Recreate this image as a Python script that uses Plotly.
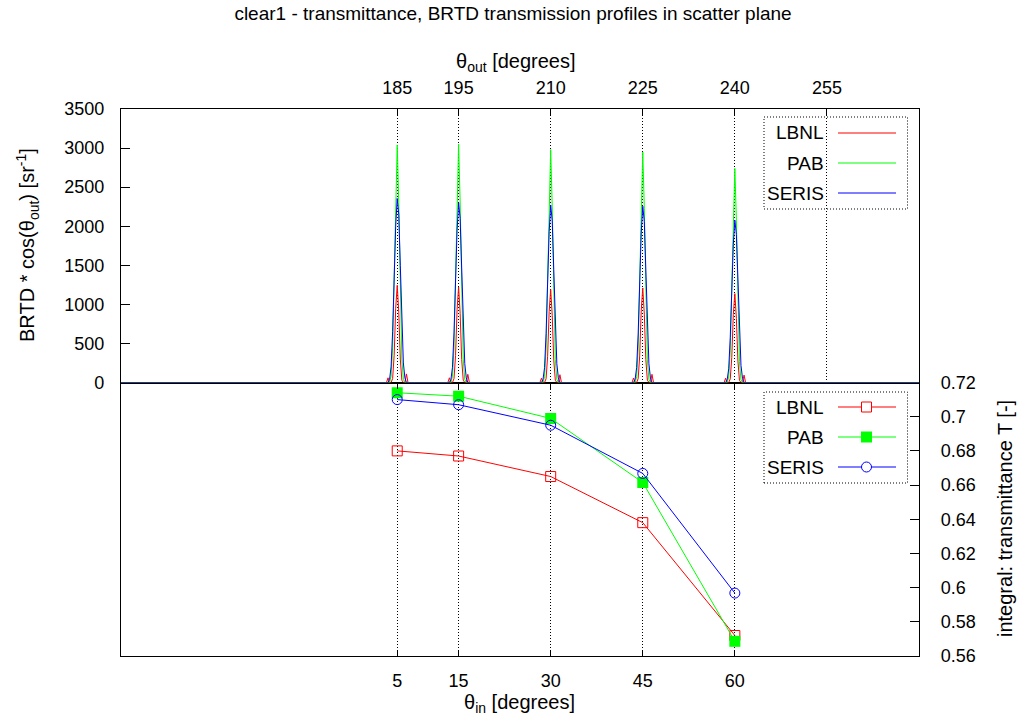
import plotly.graph_objects as go

# ---------------- data ----------------
THETA_IN = [5, 15, 30, 45, 60]
T_LBNL = [0.680, 0.677, 0.665, 0.638, 0.572]
T_PAB = [0.714, 0.712, 0.699, 0.6615, 0.5686]
T_SERIS = [0.710, 0.707, 0.695, 0.6668, 0.5968]

OUT_TICKS = [185, 195, 210, 225, 240, 255]
PEAK_CENTERS = [185, 195, 210, 225, 240]
OFFSETS = [-2.0, -1.75, -1.5, -1.25, -1.0, -0.75, -0.5, -0.25, 0.0,
           0.25, 0.5, 0.75, 1.0, 1.25, 1.5, 1.75, 2.0]

BRTD_LBNL = [
    [0, 0, 60, 0, 0, 50, 350, 950, 1244, 900, 300, 30, 0, 0, 110, 0, 0],
    [0, 0, 60, 0, 0, 50, 345, 935, 1222, 885, 295, 30, 0, 0, 105, 0, 0],
    [0, 0, 55, 0, 0, 48, 335, 910, 1190, 860, 287, 29, 0, 0, 100, 0, 0],
    [0, 0, 58, 0, 0, 49, 340, 925, 1210, 875, 292, 30, 0, 0, 105, 0, 0],
    [0, 0, 55, 0, 0, 46, 320, 870, 1137, 820, 275, 28, 0, 0, 95, 0, 0],
]
BRTD_PAB = [
    [0, 0, 0, 0, 80, 450, 1350, 2450, 3040, 2300, 1150, 300, 40, 0, 0, 0, 0],
    [0, 0, 0, 0, 80, 450, 1350, 2460, 3050, 2310, 1150, 300, 40, 0, 0, 0, 0],
    [0, 0, 0, 0, 75, 440, 1320, 2400, 2980, 2250, 1130, 295, 40, 0, 0, 0, 0],
    [0, 0, 0, 0, 75, 435, 1310, 2380, 2950, 2230, 1120, 290, 40, 0, 0, 0, 0],
    [0, 0, 0, 0, 70, 405, 1220, 2210, 2740, 2070, 1040, 270, 35, 0, 0, 0, 0],
]
BRTD_SERIS = [
    [0, 0, 0, 40, 200, 650, 1350, 2000, 2355, 2150, 1500, 750, 250, 60, 0, 0, 0],
    [0, 0, 0, 40, 195, 635, 1320, 1950, 2300, 2100, 1465, 730, 245, 60, 0, 0, 0],
    [0, 0, 0, 40, 190, 625, 1300, 1930, 2270, 2070, 1445, 720, 240, 60, 0, 0, 0],
    [0, 0, 0, 40, 190, 620, 1295, 1915, 2256, 2060, 1440, 720, 240, 58, 0, 0, 0],
    [0, 0, 0, 35, 175, 575, 1190, 1765, 2077, 1895, 1325, 660, 220, 53, 0, 0, 0],
]

RED, GREEN, BLUE = "#ff0000", "#00ff00", "#0000ff"
FONT = "Liberation Sans, Arial, Helvetica, sans-serif"
FS = 18
FS_TITLE = 19
FS_AXT = 20
FS_LEG = 19
DOT = "1px,2px"

# ---------------- geometry ----------------
W, H = 1030, 720
L, R, T, B = 121, 111, 109, 64
PW, PH = W - L - R, H - T - B


def px(x):
    return (x - L) / PW


def py(y):
    return (H - B - y) / PH


def profile(rows):
    xs, ys = [90], [0]
    for c, row in zip(PEAK_CENTERS, rows):
        for o, v in zip(OFFSETS, row):
            xs.append(c + o)
            ys.append(v)
    xs.append(270)
    ys.append(0)
    return xs, ys


fig = go.Figure()

# top panel: BRTD profiles
for name, rows, col in [("LBNL", BRTD_LBNL, RED), ("PAB", BRTD_PAB, GREEN),
                        ("SERIS", BRTD_SERIS, BLUE)]:
    xs, ys = profile(rows)
    fig.add_trace(go.Scatter(x=xs, y=ys, mode="lines", name=name,
                             line=dict(color=col, width=1),
                             xaxis="x2", yaxis="y", showlegend=False))

# bottom panel: transmittance
fig.add_trace(go.Scatter(x=THETA_IN, y=T_LBNL, mode="lines+markers", name="LBNL",
                         line=dict(color=RED, width=1),
                         marker=dict(symbol="square-open", size=10, color=RED,
                                     line=dict(width=1, color=RED)),
                         xaxis="x", yaxis="y2", showlegend=False))
fig.add_trace(go.Scatter(x=THETA_IN, y=T_PAB, mode="lines+markers", name="PAB",
                         line=dict(color=GREEN, width=1),
                         marker=dict(symbol="square", size=11, color=GREEN),
                         xaxis="x", yaxis="y2", showlegend=False))
fig.add_trace(go.Scatter(x=THETA_IN, y=T_SERIS, mode="lines+markers", name="SERIS",
                         line=dict(color=BLUE, width=1),
                         marker=dict(symbol="circle-open", size=10, color=BLUE,
                                     line=dict(width=1, color=BLUE)),
                         xaxis="x", yaxis="y2", showlegend=False))

axis_common = dict(showline=True, linecolor="black", linewidth=1.3,
                   ticks="inside", tickcolor="black", tickwidth=1,
                   zeroline=False, tickfont=dict(family=FONT, size=FS, color="black"))

fig.update_layout(
    width=W, height=H,
    margin=dict(l=L, r=R, t=T, b=B, pad=0),
    paper_bgcolor="white", plot_bgcolor="white",
    font=dict(family=FONT, size=FS, color="black"),
    showlegend=False,
    title=dict(text="clear1 - transmittance, BRTD transmission profiles in scatter plane",
               x=px(513), xref="paper", xanchor="center",
               y=1 - 13 / H, yref="container", yanchor="middle",
               font=dict(family=FONT, size=FS_TITLE, color="black")),
    xaxis=dict(domain=[0, 1], anchor="y2", range=[-40, 90],
               tickvals=THETA_IN, ticklen=6, mirror="ticks",
               showgrid=True, gridcolor="black", gridwidth=1, griddash=DOT,
               ticklabelstandoff=8, **axis_common),
    xaxis2=dict(domain=[0, 1], anchor="y", side="top", range=[140, 270],
                tickvals=OUT_TICKS, ticklen=6, mirror=True,
                showgrid=True, gridcolor="black", gridwidth=1, griddash=DOT,
                ticklabelstandoff=7, **axis_common),
    yaxis=dict(domain=[0.5, 1], anchor="x2", side="left", range=[0, 3500],
               dtick=500, tick0=0, ticklen=9, mirror=True, showgrid=False,
               ticklabelstandoff=12, **axis_common),
    yaxis2=dict(domain=[0, 0.5], anchor="x", side="right", range=[0.56, 0.72],
                tickvals=[0.56, 0.58, 0.60, 0.62, 0.64, 0.66, 0.68, 0.70, 0.72],
                ticktext=["0.56", "0.58", "0.6", "0.62", "0.64", "0.66", "0.68", "0.7", "0.72"],
                ticklen=9, mirror=True, showgrid=False,
                ticklabelstandoff=17, **axis_common),
)

# axis titles
ann = [
    dict(text="θ<sub>out</sub> [degrees]", x=px(516), y=py(62)),
    dict(text="θ<sub>in</sub> [degrees]", x=px(519), y=py(703)),
    dict(text="BRTD * cos(θ<sub>out</sub>) [sr<sup>-1</sup>]", x=px(27), y=py(245), textangle=-90),
    dict(text="integral: transmittance T [-]", x=px(1005), y=py(519), textangle=-90),
]
for a in ann:
    fig.add_annotation(xref="paper", yref="paper", showarrow=False,
                       xanchor="center", yanchor="middle",
                       font=dict(family=FONT, size=FS_AXT, color="black"), **a)

# manual gnuplot-style legends
shapes = []
names = ["LBNL", "PAB", "SERIS"]
cols = [RED, GREEN, BLUE]
for (top, bot, rows_y) in [(117, 209, [133, 163, 193]), (392, 483, [407, 437, 467])]:
    shapes.append(dict(type="rect", xref="paper", yref="paper",
                       x0=px(764), x1=px(907.5), y0=py(bot), y1=py(top),
                       line=dict(color="black", width=1, dash=DOT),
                       fillcolor="rgba(0,0,0,0)"))
    for nm, col, yy in zip(names, cols, rows_y):
        fig.add_annotation(xref="paper", yref="paper", showarrow=False,
                           x=px(826), y=py(yy), xanchor="right", yanchor="middle",
                           text=nm, font=dict(family=FONT, size=FS_LEG, color="black"))
        shapes.append(dict(type="line", xref="paper", yref="paper",
                           x0=px(838), x1=px(896), y0=py(yy), y1=py(yy),
                           line=dict(color=col, width=1.2)))

# legend markers for bottom panel
mx = 866.5
shapes.append(dict(type="rect", xref="paper", yref="paper",
                   x0=px(mx - 5), x1=px(mx + 5), y0=py(407 + 5), y1=py(407 - 5),
                   line=dict(color=RED, width=1), fillcolor="white"))
shapes.append(dict(type="rect", xref="paper", yref="paper",
                   x0=px(mx - 5.5), x1=px(mx + 5.5), y0=py(437 + 5.5), y1=py(437 - 5.5),
                   line=dict(color=GREEN, width=0), fillcolor=GREEN))
shapes.append(dict(type="circle", xref="paper", yref="paper",
                   x0=px(mx - 5), x1=px(mx + 5), y0=py(467 + 5), y1=py(467 - 5),
                   line=dict(color=BLUE, width=1), fillcolor="white"))
fig.update_layout(shapes=shapes)

fig.write_html("out.html")
